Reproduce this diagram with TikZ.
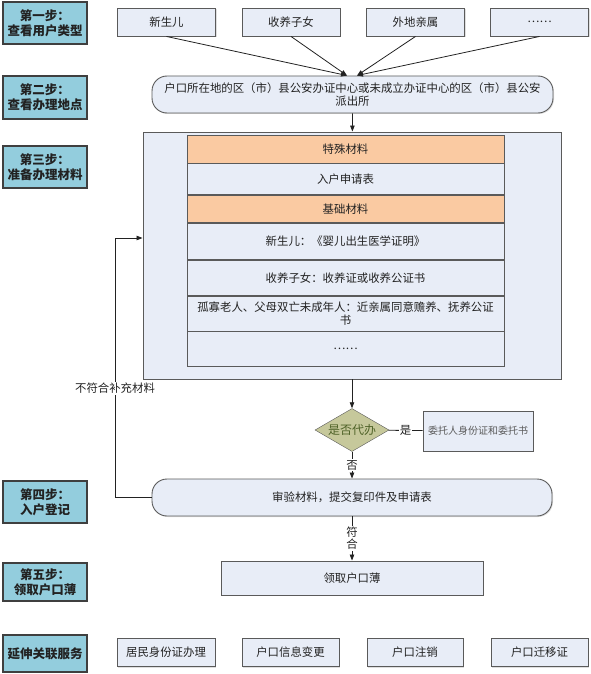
\documentclass[tikz,border=0pt]{standalone}
\usepackage{fontspec}
\setmainfont{Noto Sans CJK SC}
\usetikzlibrary{arrows.meta,positioning,shapes.geometric,shadows}
\definecolor{StepTeal}{HTML}{93CDDD}
\definecolor{StepEdge}{HTML}{3F3F3F}
\definecolor{PaleBlue}{HTML}{E8EDF7}
\definecolor{BoxEdge}{HTML}{5A5A5A}
\definecolor{SoftOrange}{HTML}{FACAA2}
\definecolor{Khaki}{HTML}{C6C89B}
\definecolor{OliveText}{HTML}{4F6228}
\definecolor{Ink}{HTML}{222222}

\begin{document}
\begin{tikzpicture}[x=1pt, y=-1pt,
  every node/.style={font=\fontsize{11.4}{13.5}\selectfont, text=Ink},
  stage/.style={draw=StepEdge, line width=1.2pt, fill=StepTeal,
                minimum width=84pt, minimum height=42pt, align=center,
                inner sep=2pt, font=\fontsize{12.5}{15}\selectfont\bfseries,
                drop shadow={shadow xshift=1pt, shadow yshift=-1pt, opacity=0.25}},
  card/.style={draw=BoxEdge, line width=0.9pt, fill=PaleBlue,
               minimum width=98pt, minimum height=28pt, inner sep=2pt,
               align=center,
               drop shadow={shadow xshift=1pt, shadow yshift=-1pt, opacity=0.25}},
  pill/.style={card, rounded corners=15pt, minimum width=400pt, minimum height=37pt},
  cell/.style={draw=BoxEdge, line width=0.8pt, fill=PaleBlue,
               minimum width=317pt, inner sep=2pt, align=center},
  decide/.style={diamond, aspect=1.75, draw=BoxEdge, fill=Khaki, inner sep=0pt,
                 minimum width=74pt, minimum height=43pt, text=OliveText,
                 font=\fontsize{12}{14}\selectfont},
  tag/.style={fill=white, inner sep=1pt, align=center},
  link/.style={-{Triangle[length=6pt, width=4.5pt]}, line width=0.8pt, draw=Ink},
  wire/.style={line width=0.8pt, draw=Ink}
]
\useasboundingbox (0,0) rectangle (590,674);

\node[stage] (s1) at (45,23) {第一步：\\查看用户类型};
\node[stage, minimum height=43pt] (s2) at (45,97.5) {第二步：\\查看办理地点};
\node[stage] (s3) at (45,167) {第三步：\\准备办理材料};
\node[stage] (s4) at (45,502) {第四步：\\入户登记};
\node[stage, minimum height=38pt] (s5) at (45,582) {第五步：\\领取户口薄};
\node[stage, minimum height=37pt] (s6) at (45,653.5) {延伸关联服务};

\node[card] (baby) at (166.5,22) {新生儿};
\node[card] (adopt) at (291,22) {收养子女};
\node[card] (kin) at (415.5,22) {外地亲属};
\node[card] (more) at (539.5,22) {……};

\node[pill, minimum width=401pt] (office) at (352.5,94.5)
  {户口所在地的区（市）县公安办证中心或未成立办证中心的区（市）县公安\\派出所};
\coordinate (inL) at ([xshift=-5.5pt]office.north);
\coordinate (inR) at ([xshift=4.5pt]office.north);

\node[card, minimum width=418pt, minimum height=247pt] (docs) at (352,255.5) {};
\node[cell, fill=SoftOrange, minimum height=28pt] (r1) at (345.5,149) {特殊材料};
\node[cell, minimum height=31pt, below=0pt of r1] (r2) {入户申请表};
\node[cell, fill=SoftOrange, minimum height=27pt, below=0pt of r2] (r3) {基础材料};
\node[cell, minimum height=36pt, below=0pt of r3] (r4) {新生儿：《婴儿出生医学证明》};
\node[cell, minimum height=35pt, below=0pt of r4] (r5) {收养子女：收养证或收养公证书};
\node[cell, minimum height=35pt, below=0pt of r5] (r6)
  {孤寡老人、父母双亡未成年人：近亲属同意赡养、抚养公证\\书};
\node[cell, minimum height=35pt, below=0pt of r6] (r7) {……};

\node[decide] (agent) at (352,430) {是否代办};
\node[card, minimum width=110pt, minimum height=40pt, text=BoxEdge,
      font=\fontsize{10}{12}\selectfont] (proxy) at (478,431) {委托人身份证和委托书};

\node[pill] (check) at (352,497.5) {审验材料，提交复印件及申请表};
\node[card, minimum width=262pt, minimum height=34pt] (fetch) at (352,578) {领取户口薄};
\coordinate (back) at (115,238);

\node[card] (idcard) at (166,652.5) {居民身份证办理};
\node[card, minimum width=97pt] (change) at (290.5,652.5) {户口信息变更};
\node[card, minimum width=96pt] (cancel) at (415,652.5) {户口注销};
\node[card, minimum width=97pt] (move) at (539.5,652.5) {户口迁移证};

\draw[link] (baby.south) -- (inL);
\draw[link] (adopt.south) -- (inL);
\draw[link] (kin.south) -- (inR);
\draw[link] (more.south) -- (inR);
\draw[link] (office) -- (docs);
\draw[link] (docs) -- (agent);
\draw[wire] (agent) -- node[tag] {是} (proxy);
\draw[link] (agent) -- node[tag] {否} (check);
\draw[link] (check) -- node[tag, font=\fontsize{11.4}{12}\selectfont] {符\\合} (fetch);
\draw[link] (check.west) -| node[tag, pos=0.71] {不符合补充材料} (back) -- (back -| docs.west);
\end{tikzpicture}
\end{document}
